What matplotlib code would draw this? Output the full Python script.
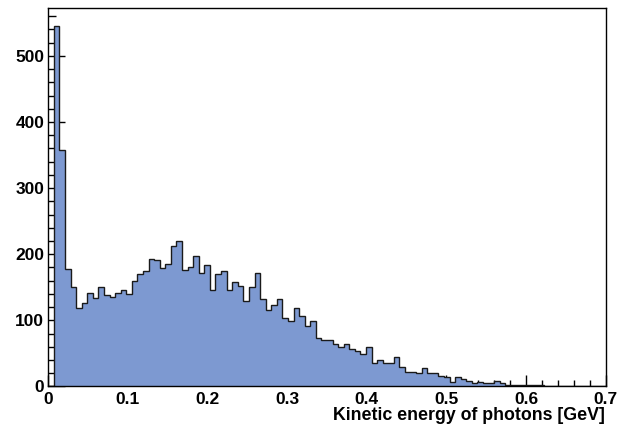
import numpy as np
import matplotlib
matplotlib.use('Agg')
import matplotlib.pyplot as plt
from matplotlib.ticker import MultipleLocator, FuncFormatter

# ── Data: photon kinetic energy histogram, 100 bins over 0-0.7 GeV ───────────
x_lo, x_hi, n_bins = 0.0, 0.7, 100
counts = [
    0, 545, 357, 178, 151, 119, 127, 141, 134, 150,
    138, 136, 142, 146, 140, 160, 170, 175, 193, 191,
    179, 186, 213, 220, 176, 180, 198, 172, 184, 146,
    170, 175, 146, 158, 152, 130, 150, 171, 132, 116,
    123, 133, 103, 99, 118, 106, 91, 99, 73, 70,
    70, 65, 60, 64, 56, 54, 49, 59, 35, 40,
    35, 35, 44, 29, 22, 22, 20, 28, 20, 21,
    16, 14, 7, 15, 12, 9, 6, 7, 5, 5,
    9, 5, 2, 2, 3, 2, 2, 3, 3, 1,
    1, 1, 1, 1, 0, 0, 0, 0, 0, 0,
]
x_ticks = [0, 0.1, 0.2, 0.3, 0.4, 0.5, 0.6, 0.7]
y_ticks = [0, 100, 200, 300, 400, 500]
x_title = 'Kinetic energy of photons [GeV]'

FILL = '#7d99d1'
EDGE = '#1a1a1a'

plt.rcParams.update({
    'font.family': ['Liberation Sans', 'DejaVu Sans'],
    'font.weight': 'bold',
    'font.size': 12.5,
})

fig = plt.figure(figsize=(6.34, 4.30), dpi=100)
ax = fig.add_axes([0.0762, 0.1012, 0.879, 0.8795])

edges = np.linspace(x_lo, x_hi, n_bins + 1)
vals = np.array(counts, dtype=float)
ax.stairs(vals, edges, fill=True, facecolor=FILL, edgecolor='none', zorder=2)
ax.stairs(vals, edges, fill=False, color=EDGE, linewidth=1.0, zorder=3)

ax.set_xlim(x_lo, x_hi)
ax.set_ylim(0, 572)

for s in ax.spines.values():
    s.set_linewidth(1.0)
    s.set_color('black')
    s.set_zorder(4)

ax.set_xticks(x_ticks)
ax.set_yticks(y_ticks)
ax.xaxis.set_minor_locator(MultipleLocator(0.02))
ax.yaxis.set_minor_locator(MultipleLocator(20))
ax.xaxis.set_major_formatter(FuncFormatter(lambda v, _: '0' if v == 0 else f'{v:g}'))

ax.tick_params(axis='x', which='major', direction='in', length=8, width=1.0, pad=4)
ax.tick_params(axis='x', which='minor', direction='in', length=4, width=1.0)
ax.tick_params(axis='y', which='major', direction='in', length=12.5, width=1.0, pad=3)
ax.tick_params(axis='y', which='minor', direction='in', length=6, width=1.0)
for lbl in ax.get_xticklabels() + ax.get_yticklabels():
    lbl.set_fontweight('bold')

ax.text(0.999, -0.055, x_title, transform=ax.transAxes, ha='right', va='top',
        fontsize=12.8, fontweight='bold')

fig.savefig('out.png', dpi=100, facecolor='white')
